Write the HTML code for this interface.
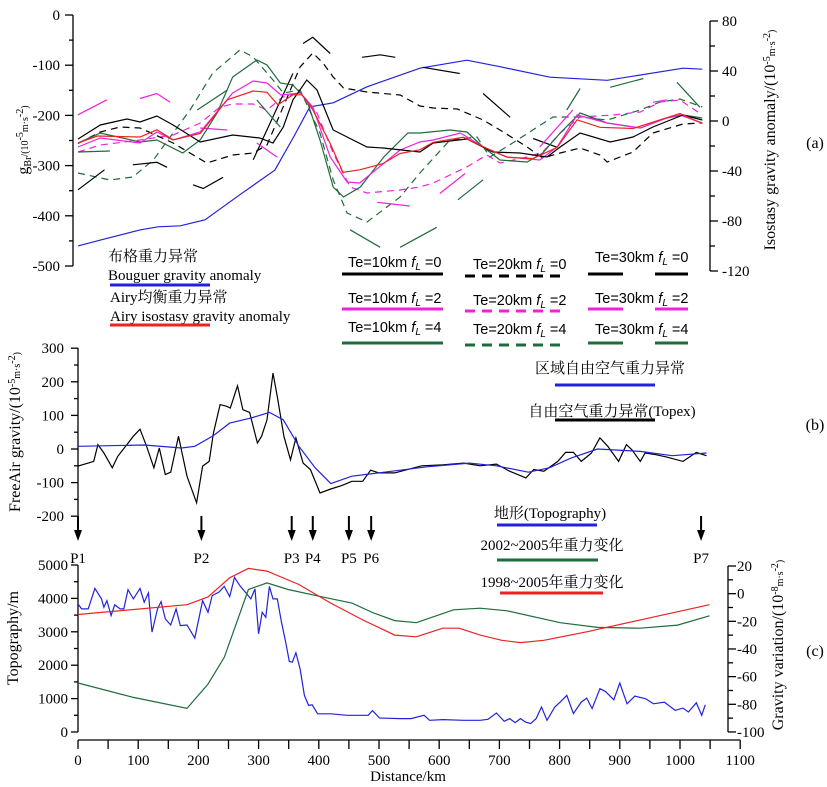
<!DOCTYPE html>
<html><head><meta charset="utf-8">
<style>
body{margin:0;background:#fff;}
svg{display:block;font-family:"Liberation Serif","Noto Serif CJK SC",serif;}
.sans{font-family:"Liberation Sans","Noto Sans CJK SC",sans-serif;}
</style></head>
<body>
<svg id="chart" width="827" height="787" viewBox="0 0 827 787" xmlns="http://www.w3.org/2000/svg">
<g id="axes"></g>
<g id="series"></g>
<g id="legend"></g>
</svg>
<script>
// ---------- data ----------
const bouguer = [[0,-460],[38,-448],[103,-428],[133,-422],[170,-420],[211,-408],[269,-358],[327,-309],[360,-239],[385,-183],[424,-175],[480,-143],[568,-106],[646,-90],[701,-103],[784,-124],[879,-130],[1005,-106],[1037,-108]];
const airy = [[0,-17.6],[32,-12],[103,-12.8],[131,-7],[158,-15],[203,-10],[248,17],[291,24],[314,23],[332,13],[357,21],[372,21],[390,9],[419,-18],[440,-41],[468,-39],[507,-34],[535,-26],[568,-23],[590,-17],[640,-13],[684,-23],[713,-29],[756,-30],[796,-21],[829,1],[867,-5],[922,-6],[967,1],[1000,6],[1037,-2]];
const te10f0 = [[0,-14.4],[37,-3.2],[81,1.6],[103,-0.8],[131,4],[158,-3.2],[203,-16.8],[257,-11.2],[302,-13.6],[324,-17.6],[341,-4.8],[357,16.8],[380,32.8],[397,24.8],[424,-7.2],[480,-20.8],[507,-21.6],[568,-24.8],[590,-17.6],[646,-14.4],[689,-24.8],[734,-25.6],[779,-28.8],[801,-20.8],[834,-9.6],[884,-16.8],[922,-12.8],[955,-4.8],[1005,4.8],[1037,0.8]];
const te10f2 = [[0,-20.8],[37,-13.6],[103,-17.6],[131,-8.8],[158,-15.2],[203,-8.8],[257,22.4],[291,32],[314,30.4],[337,20.8],[369,22.4],[390,11.2],[419,-28.8],[447,-48.8],[468,-49.6],[535,-23.2],[568,-16.8],[590,-15.2],[635,-9.6],[674,-20.8],[713,-28.8],[767,-31.2],[796,-20.8],[829,4.8],[879,-1.6],[934,-5.6],[978,2.4],[1000,4.8],[1037,-1.6]];
const te10f4 = [[0,-17.6],[37,-9.6],[103,-16.8],[131,-15.2],[174,-25.6],[203,-15.2],[231,6.4],[257,35.2],[297,48.8],[314,44.8],[336,30.4],[357,28.8],[380,16.8],[402,-15.2],[424,-52.8],[441,-60.8],[469,-52.8],[508,-28.8],[548,-9.6],[568,-9.6],[618,-7.2],[646,-8.8],[673,-20.8],[701,-31.2],[746,-32.8],[772,-25.6],[801,-9.6],[834,6.4],[879,-1.6],[934,-5.6],[978,2.4],[1005,4.8],[1037,2.4]];
const te20f0 = [[0,-18],[37,-8.8],[70,-4.8],[103,-5.6],[158,-17.6],[214,-33.6],[257,-27.2],[291,-25.6],[314,-19.2],[369,43.2],[390,54.4],[407,46.4],[424,35.2],[441,26.4],[480,23.2],[535,20.8],[568,12],[590,10.4],[630,9.6],[673,0.8],[701,-7.2],[746,-20.8],[772,-29.6],[801,-25.6],[834,-21.6],[867,-27.2],[879,-32.8],[922,-24.8],[955,-9.6],[1005,-2.4],[1037,-1.6]];
const te20f2 = [[0,-24.8],[37,-19.2],[103,-15.2],[158,-11.2],[203,-1.6],[236,11.2],[257,13.6],[291,13.6],[314,8.8],[340,19.2],[369,22.4],[397,6.4],[424,-25.6],[452,-52.8],[480,-57.6],[535,-55.2],[568,-52.8],[590,-49.6],[646,-36.8],[679,-27.2],[701,-33.6],[746,-28.8],[772,-24.8],[801,-9.6],[834,3.2],[889,4.8],[934,7.2],[967,15.2],[1000,16.8],[1037,4.8]];
const te20f4 = [[0,-41.6],[53,-47.2],[91,-44.8],[125,-31.2],[158,-9.6],[186,8.8],[224,38.4],[269,56.8],[291,51.2],[324,32.8],[341,22.4],[369,24.8],[402,-9.6],[424,-47.2],[447,-73.6],[480,-80.8],[535,-60.8],[568,-41.6],[618,-15.2],[663,-12.8],[684,-28.8],[722,-17.6],[789,3.2],[834,3.2],[879,0.8],[934,8.8],[967,15.2],[1000,17.6],[1037,11.2]];
const te30f0 = [[[0,-55],[44,-39]],[[91,-35],[131,-33],[148,-37]],[[191,-51],[208,-54],[241,-45]],[[291,-31],[357,38]],[[374,62],[390,67],[419,54]],[[472,51],[502,53],[527,51]],[[573,43],[634,38]],[[673,22],[718,3]],[[756,-14],[796,-21]]];
const te30f2 = [[[0,5],[48,17]],[[103,18],[131,22],[153,15]],[[203,-5.6],[248,-7.2]],[[297,-17.6],[331,-29]],[[497,-65],[551,-68]],[[601,-58],[643,-42]],[[767,-20.8],[822,8.8]],[[955,15],[978,17]]];
const te30f4 = [[[0,-24.8],[53,-24]],[[198,8.8],[248,24.8]],[[297,16.8],[336,-4.8]],[[452,-87],[502,-101]],[[535,-101],[596,-85]],[[631,-63],[673,-47]],[[812,8.8],[834,26]],[[884,27],[939,34]],[[995,31],[1033,11]]];
const freeAir = [[0,-51],[17,-42],[26,-37],[33,13],[43,-12],[57,-56],[66,-22],[79,8],[92,38],[103,59],[114,8],[126,-56],[135,3],[145,-76],[154,-69],[167,38],[181,-81],[197,-160],[207,-51],[218,-37],[225,47],[236,132],[247,127],[253,122],[265,188],[274,117],[285,109],[298,18],[305,38],[314,87],[324,226],[331,156],[342,38],[353,-32],[362,33],[374,-42],[386,-61],[402,-131],[420,-119],[438,-109],[455,-96],[473,-96],[486,-63],[500,-71],[526,-71],[571,-50],[606,-47],[641,-42],[668,-50],[695,-45],[717,-66],[744,-86],[757,-61],[774,-66],[797,-37],[810,-10],[823,-10],[836,-37],[853,-12],[867,33],[880,8],[898,-37],[911,13],[920,-2],[934,-37],[942,-12],[960,-17],[978,-24],[1005,-37],[1027,-10],[1044,-20]];
const regional = [[0,8],[110,12],[172,3],[194,8],[225,40],[252,77],[287,92],[318,109],[341,87],[367,8],[394,-56],[420,-103],[455,-81],[491,-73],[580,-53],[650,-42],[695,-50],[748,-69],[783,-56],[819,-27],[863,0],[934,-7],[987,-20],[1044,-12]];
const topo = [[0,3835],[6,3685],[17,3685],[28,4300],[39,3985],[43,3735],[48,3935],[55,3485],[61,3805],[70,3685],[76,3685],[83,4260],[92,3985],[103,4300],[110,3885],[117,4165],[123,2990],[132,3685],[138,3905],[145,3385],[154,3205],[163,3685],[170,3185],[181,3205],[194,2810],[207,3935],[216,3585],[223,4085],[234,4185],[243,4360],[252,4055],[260,4630],[269,4380],[278,4185],[287,3985],[294,4285],[300,2940],[306,3585],[312,3435],[318,4360],[324,3985],[331,3985],[338,3285],[345,2690],[351,2110],[356,2090],[362,2370],[369,1890],[376,1095],[383,795],[389,815],[398,545],[420,545],[447,500],[482,500],[489,640],[501,420],[535,400],[553,400],[575,500],[584,350],[606,370],[641,350],[668,350],[681,380],[695,570],[708,320],[717,400],[726,280],[735,400],[743,300],[752,250],[761,400],[770,750],[779,350],[792,750],[801,895],[812,1095],[823,550],[836,895],[845,1015],[854,700],[867,1295],[876,1215],[890,965],[900,1465],[912,845],[925,1075],[943,995],[956,845],[974,895],[992,650],[1005,715],[1014,600],[1027,875],[1036,500],[1042,815]];
const grav9805 = [[0,-15.1],[181,-8],[216,-2.4],[252,11.5],[283,18.3],[314,16.3],[367,6.6],[420,-6.8],[473,-19],[526,-30],[562,-31.2],[606,-25],[633,-25],[668,-30],[704,-33.7],[735,-35.4],[774,-33.7],[845,-27.6],[934,-19],[1049,-8]];
const grav0205 = [[0,-64.6],[92,-75],[181,-83],[216,-65.4],[243,-46],[283,3],[314,7.8],[349,3],[402,-2],[455,-6.8],[491,-14],[526,-19.5],[562,-21],[624,-11.7],[668,-10.5],[713,-12.4],[801,-21],[863,-24.4],[934,-25],[996,-22.7],[1049,-16]];
const profilePoints = ['P1','P2','P3','P4','P5','P6','P7'];
const profileDist = [0,205,355,390,450,487,1035];
const xTicks = [0,100,200,300,400,500,600,700,800,900,1000,1100];
const topLeftTicks = [0,-100,-200,-300,-400,-500];
const topRightTicks = [80,40,0,-40,-80,-120];
const midTicks = [300,200,100,0,-100,-200];
const topoTicks = [5000,4000,3000,2000,1000,0];
const gravTicks = [20,0,-20,-40,-60,-80,-100];

// ---------- scales ----------
const X = d => 78 + d*0.602;
const yTopL = v => 15 - v*0.502;
const yTopR = v => 121 - v*1.25;
const yMid = v => 449 - v*0.336;
const yTopo = v => 732 - v*0.0334;
const yGrav = v => 566 + (20-v)*1.383;

const NS='http://www.w3.org/2000/svg';
const axes=document.getElementById('axes'), ser=document.getElementById('series'), leg=document.getElementById('legend');
function mk(tag, attrs, parent){const e=document.createElementNS(NS,tag);for(const k in attrs)e.setAttribute(k,attrs[k]);parent.appendChild(e);return e;}
function txt(s,x,y,attrs,parent){const e=mk('text',Object.assign({x:x,y:y,'font-size':15,fill:'#000'},attrs),parent);e.textContent=s;return e;}
function line(x1,y1,x2,y2,parent,w){return mk('line',{x1:x1,y1:y1,x2:x2,y2:y2,stroke:'#000','stroke-width':w||1.3},parent);}
function path(pts, ys, color, dash, name){
  const d=pts.map((p,i)=>(i?'L':'M')+X(p[0]).toFixed(1)+','+ys(p[1]).toFixed(1)).join('');
  const e=mk('path',{d:d,fill:'none',stroke:color,'stroke-width':1.2},ser);
  if(dash)e.setAttribute('stroke-dasharray',dash);
  
  
  return e;
}

// ---------- top panel axes ----------
line(73,15,73,266,axes);
for(let v=0;v>=-500;v-=50){line(73,yTopL(v),v%100===0?65:69,yTopL(v),axes);}
topLeftTicks.forEach(v=>{const t=txt(String(v),60,yTopL(v)+5,{'text-anchor':'end','font-size':15},axes);

});
line(710,21,710,271,axes);
for(let v=80;v>=-120;v-=20){line(710,yTopR(v),v%40===0?718:715,yTopR(v),axes);}
topRightTicks.forEach(v=>{const t=txt(String(v),722,yTopR(v)+5,{'font-size':15},axes);

});
// ---------- middle axes ----------
line(78,348,78,516,axes);
for(let v=300;v>=-200;v-=50){line(78,yMid(v),v%100===0?71:74,yMid(v),axes);}
midTicks.forEach(v=>{const t=txt(String(v),64,yMid(v)+5,{'text-anchor':'end','font-size':15},axes);

});
// ---------- bottom axes ----------
line(78,565,78,732,axes);
for(let v=5000;v>=0;v-=500){line(78,yTopo(v),v%1000===0?71:74,yTopo(v),axes);}
topoTicks.forEach(v=>{const t=txt(String(v),68,yTopo(v)+5,{'text-anchor':'end','font-size':15},axes);

});
line(728,566,728,732,axes);
for(let v=20;v>=-100;v-=10){line(728,yGrav(v),v%20===0?736:733,yGrav(v),axes);}
gravTicks.forEach(v=>{const t=txt(String(v),737,yGrav(v)+5,{'font-size':15},axes);

});
line(78,740,X(1100),740,axes);
for(let d=0;d<=1100;d+=50){line(X(d),740,X(d),749,axes);}
xTicks.forEach(d=>{const t=txt(String(d),X(d),765,{'text-anchor':'middle','font-size':15},axes);

});

// profile arrows
profilePoints.forEach((p,i)=>{
  const x=X(profileDist[i]);
  const g=mk('g',{},axes);
  
  
  line(x,516,x,532,g,2);
  mk('polygon',{points:`${x-4},530 ${x+4},530 ${x},541`,fill:'#000'},g);
  txt(p,x,563,{'text-anchor':'middle','font-size':15},g);
});

// ---------- series ----------
path(bouguer,yTopL,'#2222dd',null,'bouguer-line');
path(te20f4,yTopR,'#1e6b3c','7,5','te20-fl4-line');
path(te20f2,yTopR,'#ee22dd','7,5','te20-fl2-line');
path(te20f0,yTopR,'#000','7,5','te20-fl0-line');
te30f0.forEach(s=>path(s,yTopR,'#000',null,'te30-fl0-segment'));
te30f2.forEach(s=>path(s,yTopR,'#ee22dd',null,'te30-fl2-segment'));
te30f4.forEach(s=>path(s,yTopR,'#1e6b3c',null,'te30-fl4-segment'));
path(te10f4,yTopR,'#1e6b3c',null,'te10-fl4-line');
path(te10f2,yTopR,'#ee22dd',null,'te10-fl2-line');
path(te10f0,yTopR,'#000',null,'te10-fl0-line');
path(airy,yTopR,'#ee2222',null,'airy-line');
path(freeAir,yMid,'#000',null,'free-air-line');
path(regional,yMid,'#2222dd',null,'regional-free-air-line');
path(topo,yTopo,'#2222dd',null,'topography-line');
path(grav0205,yGrav,'#1e6b3c',null,'gravity-2002-2005-line');
path(grav9805,yGrav,'#ee2222',null,'gravity-1998-2005-line');

// ---------- legend ----------
function legLine(x1,x2,y,color,dash,name){const e=mk('line',{x1:x1,y1:y,x2:x2,y2:y,stroke:color,'stroke-width':3},leg);if(dash)e.setAttribute('stroke-dasharray',dash);

}
function legText(s,x,y,cls,anchor){const e=txt(s,x,y,{'font-size':15,'text-anchor':anchor||'start'},leg);if(cls)e.setAttribute('class',cls);

return e;}
legText('布格重力异常',108,261,null);
legText('Bouguer gravity anomaly',108,280,null);
legLine(110,210,285,'#2222dd',null,'legend-bouguer-line');
legText('Airy均衡重力异常',110,302,null);
legText('Airy isostasy gravity anomaly',110,321,null);
legLine(110,210,325,'#ee2222',null,'legend-airy-line');
function teLabel(s,x,y){const e=mk('text',{x:x,y:y,'font-size':14.5,fill:'#000',class:'sans'},leg);


const a=document.createElementNS(NS,'tspan');a.textContent='Te='+s+'km ';e.appendChild(a);
const b=document.createElementNS(NS,'tspan');b.setAttribute('font-style','italic');b.textContent='f';e.appendChild(b);
const c=document.createElementNS(NS,'tspan');c.setAttribute('font-size','10');c.setAttribute('font-style','italic');c.setAttribute('dy','3');c.textContent='L';e.appendChild(c);
return e;}
const rows=[[0,267,274,'#000'],[2,303,309,'#ee22dd'],[4,332,343,'#1e6b3c']];
rows.forEach(r=>{
  const f=r[0],ty=r[1],ly=r[2],c=r[3];
  let t=teLabel('10',348,ty);const s1=document.createElementNS(NS,'tspan');s1.setAttribute('dy','-3');s1.textContent=' ='+f;t.appendChild(s1);
  t=teLabel('20',473,ty+2);const s2=document.createElementNS(NS,'tspan');s2.setAttribute('dy','-3');s2.textContent=' ='+f;t.appendChild(s2);
  t=teLabel('30',595,ty-(f===0?5:0)+(f===4?2:0));const s3=document.createElementNS(NS,'tspan');s3.setAttribute('dy','-3');s3.textContent=' ='+f;t.appendChild(s3);
  legLine(342,443,ly,c,null,'legend-te10-line');
  legLine(465,560,ly+2,c,'10,7','legend-te20-line');
  legLine(588,623,ly,c,null,'legend-te30-line');
  legLine(655,688,ly,c,null,'legend-te30-line');
});
legText('区域自由空气重力异常',610,373,null,'middle');
legLine(555,655,385,'#2222dd',null,'legend-regional-line');
legText('自由空气重力异常(Topex)',612,416,null,'middle');
legLine(555,655,420,'#000',null,'legend-topex-line');
legText('地形(Topography)',550,518,null,'middle');
legLine(497,597,525,'#2222dd',null,'legend-topography-line');
legText('2002~2005年重力变化',552,550,null,'middle');
legLine(497,598,560,'#1e6b3c',null,'legend-2002-line');
legText('1998~2005年重力变化',552,587,null,'middle');
legLine(500,603,593,'#ee2222',null,'legend-1998-line');
// panel labels
[['(a)',148],['(b)',430],['(c)',656]].forEach(p=>{const t=txt(p[0],815,p[1],{'text-anchor':'middle','font-size':16},leg);

});

// axis titles
function vtitle(parts,x,y,name){const e=mk('text',{x:0,y:0,'font-size':16,fill:'#000','text-anchor':'middle',transform:`translate(${x},${y}) rotate(-90)`},leg);


parts.forEach(p=>{const s=document.createElementNS(NS,'tspan');s.textContent=p[0];if(p[1]){s.setAttribute('dy',p[1]);s.setAttribute('font-size','10');}if(p[2])s.setAttribute('dy',p[2]);e.appendChild(s);});}
vtitle([['g'],['Br','3'],['/(10','-3'],['-5','-5'],['m·s','5'],['-2','-5'],[')','5']],28,140,'top-left-axis-title');
vtitle([['Isostasy gravity anomaly/(10'],['-5','-5'],['m·s','5'],['-2','-5'],[')','5']],775,140,'top-right-axis-title');
vtitle([['FreeAir gravity/(10'],['-5','-5'],['m·s','5'],['-2','-5'],[')','5']],20,432,'middle-axis-title');
vtitle([['Topography/m']],18,638,'topography-axis-title');
vtitle([['Gravity variation/(10'],['-8','-5'],['m·s','5'],['-2','-5'],[')','5']],783,645,'gravity-variation-axis-title');
const xt=txt('Distance/km',408,781,{'text-anchor':'middle','font-size':15},leg);


</script>
</body></html>
